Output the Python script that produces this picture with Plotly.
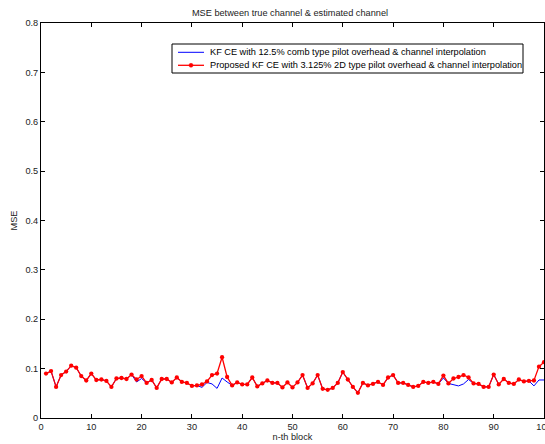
import plotly.graph_objects as go

blocks = list(range(1, 101))

mse_proposed = [
    0.090, 0.095, 0.063, 0.087, 0.094, 0.106, 0.102, 0.085, 0.076, 0.090,
    0.077, 0.078, 0.075, 0.063, 0.080, 0.081, 0.079, 0.088, 0.078, 0.085,
    0.071, 0.077, 0.061, 0.079, 0.079, 0.072, 0.082, 0.073, 0.071, 0.065,
    0.066, 0.068, 0.074, 0.087, 0.090, 0.123, 0.083, 0.066, 0.072, 0.068,
    0.068, 0.082, 0.064, 0.070, 0.076, 0.071, 0.071, 0.062, 0.072, 0.062,
    0.072, 0.087, 0.061, 0.070, 0.087, 0.059, 0.057, 0.061, 0.071, 0.093,
    0.078, 0.063, 0.051, 0.071, 0.066, 0.069, 0.073, 0.067, 0.082, 0.087,
    0.071, 0.071, 0.067, 0.063, 0.065, 0.073, 0.071, 0.073, 0.069, 0.086,
    0.070, 0.080, 0.083, 0.087, 0.082, 0.070, 0.069, 0.063, 0.063, 0.088,
    0.068, 0.079, 0.071, 0.069, 0.078, 0.074, 0.075, 0.076, 0.104, 0.113,
]

mse_comb = [
    0.090, 0.095, 0.063, 0.087, 0.094, 0.106, 0.102, 0.085, 0.076, 0.090,
    0.077, 0.078, 0.075, 0.063, 0.080, 0.081, 0.079, 0.088, 0.073, 0.080,
    0.071, 0.077, 0.061, 0.079, 0.079, 0.072, 0.082, 0.073, 0.071, 0.065,
    0.066, 0.062, 0.072, 0.069, 0.060, 0.081, 0.073, 0.066, 0.072, 0.068,
    0.068, 0.082, 0.064, 0.070, 0.076, 0.071, 0.071, 0.062, 0.072, 0.062,
    0.072, 0.087, 0.061, 0.070, 0.087, 0.059, 0.057, 0.061, 0.071, 0.093,
    0.078, 0.063, 0.051, 0.071, 0.066, 0.069, 0.073, 0.067, 0.082, 0.087,
    0.071, 0.071, 0.067, 0.063, 0.065, 0.073, 0.071, 0.073, 0.069, 0.081,
    0.070, 0.067, 0.065, 0.069, 0.078, 0.070, 0.069, 0.063, 0.063, 0.088,
    0.068, 0.079, 0.071, 0.069, 0.078, 0.074, 0.075, 0.065, 0.077, 0.077,
]

series_names = [
    "KF CE with 12.5% comb type pilot overhead & channel interpolation",
    "Proposed KF CE with 3.125% 2D type pilot overhead & channel interpolation",
]

x_ticks = [0, 10, 20, 30, 40, 50, 60, 70, 80, 90, 100]
y_ticks = [0, 0.1, 0.2, 0.3, 0.4, 0.5, 0.6, 0.7, 0.8]
y_tick_labels = ["0", "0.1", "0.2", "0.3", "0.4", "0.5", "0.6", "0.7", "0.8"]

FONT = "Liberation Sans, Arial, sans-serif"
FS = 9.2
TXT = "#222"

W, H = 545, 444
L, R, T, B = 41, 1, 23, 26
PW, PH = W - L - R, H - T - B


def px(x):
    return (x - L) / PW


def py(y):
    return (H - B - y) / PH


fig = go.Figure()
fig.add_trace(go.Scatter(
    x=blocks, y=mse_comb, mode="lines",
    line=dict(color="#0000ff", width=1),
    name=series_names[0], showlegend=False,
))
fig.add_trace(go.Scatter(
    x=blocks, y=mse_proposed, mode="lines+markers",
    line=dict(color="#ff0000", width=1.3),
    marker=dict(color="#ff0000", size=4.3),
    name=series_names[1], showlegend=False,
))

axis_common = dict(
    showgrid=False, zeroline=False, showline=True, linecolor="black", linewidth=1,
    mirror="allticks", ticks="inside", ticklen=4, tickcolor="black",
    tickfont=dict(family=FONT, size=FS, color=TXT),
    ticklabeloverflow="allow", automargin=False,
)

# manual MATLAB-style legend box
shapes = [
    dict(type="rect", xref="paper", yref="paper",
         x0=px(172), x1=px(523), y0=py(73), y1=py(44),
         line=dict(color="black", width=1), fillcolor="white", layer="above"),
    dict(type="line", xref="paper", yref="paper",
         x0=px(178), x1=px(204), y0=py(52.3), y1=py(52.3),
         line=dict(color="#0000ff", width=1), layer="above"),
    dict(type="line", xref="paper", yref="paper",
         x0=px(178), x1=px(204), y0=py(65.3), y1=py(65.3),
         line=dict(color="#ff0000", width=1.3), layer="above"),
    dict(type="circle", xref="paper", yref="paper",
         x0=px(189), x1=px(193), y0=py(67.3), y1=py(63.3),
         line=dict(color="#ff0000", width=0.5), fillcolor="#ff0000", layer="above"),
]
annotations = [
    dict(text=series_names[0], xref="paper", yref="paper", x=px(208), y=py(52.3),
         xanchor="left", yanchor="middle", showarrow=False,
         font=dict(family=FONT, size=FS, color="black")),
    dict(text=series_names[1], xref="paper", yref="paper", x=px(208), y=py(65.3),
         xanchor="left", yanchor="middle", showarrow=False,
         font=dict(family=FONT, size=FS, color="black")),
]

fig.update_layout(
    width=W, height=H,
    margin=dict(l=L, r=R, t=T, b=B),
    paper_bgcolor="white", plot_bgcolor="white",
    title=dict(text="MSE between true channel & estimated channel",
               x=290 / W, xanchor="center", y=1 - 13 / H, yanchor="middle",
               font=dict(family=FONT, size=FS, color=TXT)),
    xaxis=dict(range=[0, 100], tickvals=x_ticks,
               title=dict(text="n-th block", standoff=2,
                          font=dict(family=FONT, size=FS, color=TXT)),
               **axis_common),
    yaxis=dict(range=[0, 0.8], tickvals=y_ticks, ticktext=y_tick_labels,
               title=dict(text="MSE", standoff=6,
                          font=dict(family=FONT, size=FS, color=TXT)),
               **axis_common),
    showlegend=False,
    shapes=shapes,
    annotations=annotations,
    hovermode=False,
)

fig.write_html("out.html", config={"displayModeBar": False},
               post_script="document.body.style.margin='0';")
